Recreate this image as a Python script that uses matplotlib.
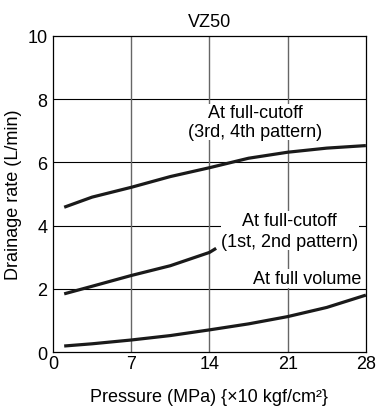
import matplotlib
matplotlib.use("Agg")
import matplotlib.pyplot as plt

# pressure (MPa) where each curve was read
pressure = [1, 3.5, 7, 10.5, 14, 17.5, 21, 24.5, 28]
cutoff_34 = [4.58, 4.90, 5.21, 5.55, 5.83, 6.13, 6.32, 6.45, 6.53]

pressure_12 = [1, 3.5, 7, 10.5, 14, 14.6]
cutoff_12 = [1.84, 2.08, 2.42, 2.73, 3.15, 3.28]

full_volume = [0.19, 0.26, 0.38, 0.52, 0.70, 0.89, 1.12, 1.41, 1.80]

x_ticks = [0, 7, 14, 21, 28]
y_ticks = [0, 2, 4, 6, 8, 10]

plt.rcParams["font.family"] = ["Liberation Sans", "DejaVu Sans"]
plt.rcParams["font.size"] = 13

fig = plt.figure(figsize=(3.76, 4.10), dpi=100)
ax = fig.add_axes([0.141, 0.139, 0.832, 0.771])

# grid: horizontal black, vertical grey
for y in y_ticks[1:-1]:
    ax.axhline(y, color="black", lw=0.8, zorder=1)
for x in x_ticks[1:-1]:
    ax.axvline(x, color="#666666", lw=1.0, zorder=1)

line_kw = dict(color="#1a1a1a", lw=2.3, solid_capstyle="butt", solid_joinstyle="round", zorder=2)
ax.plot(pressure, cutoff_34, **line_kw)
ax.plot(pressure_12, cutoff_12, **line_kw)
ax.plot(pressure, full_volume, **line_kw)

box = dict(facecolor="white", edgecolor="none", pad=0.5)
ax.text(18.1, 7.28, "At full-cutoff\n(3rd, 4th pattern)", ha="center", va="center",
        linespacing=1.1, bbox=box, zorder=3)
ax.text(21.2, 3.84, "At full-cutoff\n(1st, 2nd pattern)", ha="center", va="center",
        linespacing=1.3, bbox=box, zorder=3)
ax.text(27.6, 2.33, "At full volume", ha="right", va="center", bbox=box, zorder=3)

ax.set_xlim(0, 28)
ax.set_ylim(0, 10)
ax.set_xticks(x_ticks)
ax.set_yticks(y_ticks)
ax.tick_params(length=0, pad=2, labelsize=13)
ax.tick_params(axis="y", pad=4)
for s in ax.spines.values():
    s.set_linewidth(0.9)
    s.set_zorder(4)

ax.set_title("VZ50", fontsize=13, pad=7)
ax.set_xlabel("Pressure (MPa) {×10 kgf/cm²}", labelpad=12)
ax.set_ylabel("Drainage rate (L/min)", labelpad=4)

fig.savefig("out.png", dpi=100)
